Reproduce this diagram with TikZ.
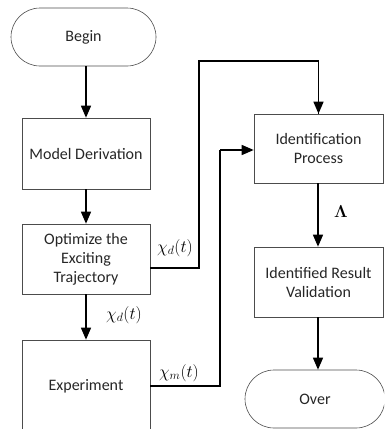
\documentclass[tikz,border=0pt]{standalone}
\usepackage{fontspec}
\setmainfont{Carlito}
\usepackage{amsmath}
\usetikzlibrary{arrows.meta}
\begin{document}
\begin{tikzpicture}[x=1pt,y=-1pt,
  txt/.style={align=center,font=\fontsize{16}{19}\selectfont,inner sep=0pt,text=black!85},
  box/.style={txt,draw=black!70,line width=0.6pt},
  term/.style={box,rounded corners=29pt},
  conn/.style={line width=1.4pt,-{Triangle[length=12pt,width=10pt]}},
  plain/.style={line width=1.4pt},
  lab/.style={font=\fontsize{17}{19}\selectfont}]
\path[use as bounding box] (0,0) rectangle (384,429);
\begin{scope}
\clip (0,0) rectangle (384,429);
\node[term,minimum width=145pt,minimum height=58pt] (begin) at (83.5,37) {Begin};
\node[box,minimum width=128pt,minimum height=71pt] (model) at (86,153.5) {Model Derivation};
\node[box,minimum width=128pt,minimum height=70pt] (opt) at (86,259) {Optimize the\\Exciting\\Trajectory};
\node[box,minimum width=128pt,minimum height=100pt] (exp) at (86,390) {};
\node[txt] (explabel) at (86,386) {Experiment};
\node[box,minimum width=129pt,minimum height=69pt] (ident) at (318.5,148.5) {Identification\\Process};
\node[box,minimum width=129pt,minimum height=70pt] (valid) at (318.5,282) {Identified Result\\Validation};
\node[term,minimum width=140pt,minimum height=58pt] (over) at (315,399) {Over};

\coordinate (c1) at (199,61);
\coordinate (c2) at (220,150);

\draw[conn] (begin.south -| model.north) -- (model.north);
\draw[conn] (model.south) -- (opt.north);
\draw[conn] (opt.south) -- (exp.north);
\draw[plain] (opt.east |- 0,268) -- (c1 |- 0,268) -- (c1) -| (ident.north);
\draw[conn] (c1 -| ident.north) -- (ident.north);
\draw[plain] (exp.east |- 0,386) -- (c2 |- 0,386) -- (c2);
\draw[conn] (c2) -- (ident.west |- c2);
\draw[conn] (ident.south -| 318,0) -- (valid.north -| 318,0);
\draw[conn] (valid.south -| 318,0) -- (over.north -| 318,0);

\node[lab] (l1) at (175,248) {$\chi_d(t)$};
\node[lab] (l2) at (124,315) {$\chi_d(t)$};
\node[lab] (l3) at (179,373) {$\chi_m(t)$};
\node[lab] (l4) at (341,212) {$\boldsymbol{\Lambda}$};
\end{scope}
\end{tikzpicture}
\end{document}
